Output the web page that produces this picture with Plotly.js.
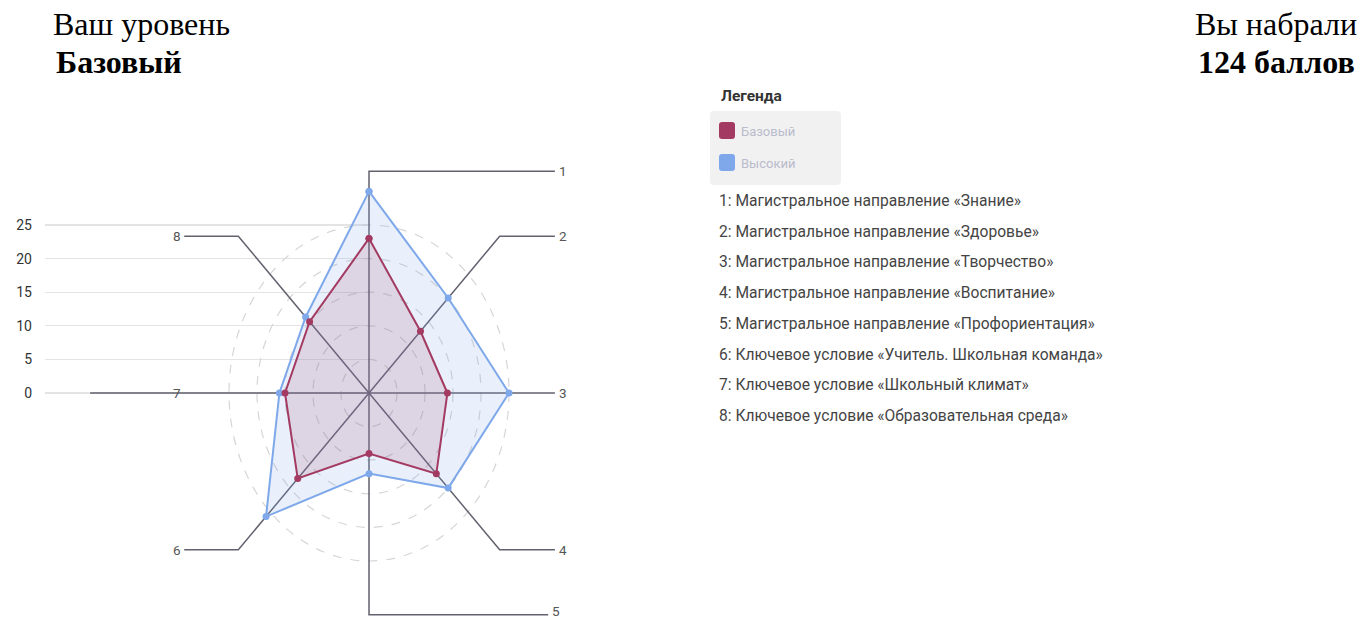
<!DOCTYPE html>
<html><head><meta charset="utf-8">
<script src="https://cdn.plot.ly/plotly-3.0.1.min.js"></script>
<style>html,body{margin:0;padding:0;background:#fff;overflow:hidden}#chart{width:1362px;height:620px}</style>
</head><body><div id="chart"></div>
<script>
// ---- data ----
const axisLabels = ['1','2','3','4','5','6','7','8'];
const axisNames = [
  'Магистральное направление «Знание»',
  'Магистральное направление «Здоровье»',
  'Магистральное направление «Творчество»',
  'Магистральное направление «Воспитание»',
  'Магистральное направление «Профориентация»',
  'Ключевое условие «Учитель. Школьная команда»',
  'Ключевое условие «Школьный климат»',
  'Ключевое условие «Образовательная среда»'
];
const seriesNames = ['Базовый', 'Высокий'];
const baseValues = [23, 13, 14, 17, 9, 18, 15, 15];
const highValues = [30, 20, 25, 20, 12, 26, 16, 16];
const gridLevels = [5, 10, 15, 20, 25];
const yTickValues = [0, 5, 10, 15, 20, 25];

// ---- geometry / style ----
const W = 1362, H = 620;
const CX = 369, CY = 393, PXX = 5.6, PXY = 6.72;
const xr = [-CX / PXX, (W - CX) / PXX];
const yr = [-(H - CY) / PXY, CY / PXY];
const px = v => v / W, py = v => 1 - v / H;
const baseColor = '#a33a62', highColor = '#7ea8ea';
const spokeColor = '#62626f';
const SPOKE = 33;
const angles = axisLabels.map((_, i) => (90 - 45 * i) * Math.PI / 180);

function polar(vals) {
  const x = vals.map((v, i) => v * Math.cos(angles[i]));
  const y = vals.map((v, i) => v * Math.sin(angles[i]));
  x.push(x[0]); y.push(y[0]);
  return {x, y};
}

// empty trace so the left value axis subplot is drawn
const traces = [{x: [], y: [], type: 'scatter', mode: 'lines', xaxis: 'x', yaxis: 'y', showlegend: false, hoverinfo: 'skip'}];
const annotations = [];

// spokes with leader legs
const legEnds = [33.2, 33.2, 33.2, 33.2, 32, -33, -49.8, -33];
axisLabels.forEach((lab, i) => {
  const ex = SPOKE * Math.cos(angles[i]), ey = SPOKE * Math.sin(angles[i]);
  const exr = Math.abs(ex) < 1e-9 ? 0 : ex, eyr = Math.abs(ey) < 1e-9 ? 0 : ey;
  traces.push({x: [0, exr, legEnds[i]], y: [0, eyr, eyr], xaxis: 'x2', yaxis: 'y2', mode: 'lines', type: 'scatter',
    line: {color: spokeColor, width: 1.5}, hoverinfo: 'skip', showlegend: false});
  const right = legEnds[i] > 0;
  const ly = eyr < -30 ? eyr + 0.5 : eyr;
  annotations.push({x: right ? legEnds[i] + 0.3 : -33.2, y: ly, xref: 'x2', yref: 'y2', text: lab, showarrow: false,
    xanchor: right ? 'left' : 'right', yanchor: 'middle',
    font: {family: 'Roboto', size: 13.5, color: '#555'}});
});

const hp = polar(highValues), bp = polar(baseValues);
traces.push({x: hp.x, y: hp.y, xaxis: 'x2', yaxis: 'y2', type: 'scatter', mode: 'lines+markers',
  name: seriesNames[1], fill: 'toself', fillcolor: 'rgba(126,167,232,0.17)',
  line: {color: highColor, width: 2}, marker: {color: highColor, size: 7}, showlegend: false});
traces.push({x: bp.x, y: bp.y, xaxis: 'x2', yaxis: 'y2', type: 'scatter', mode: 'lines+markers',
  name: seriesNames[0], fill: 'toself', fillcolor: 'rgba(162,58,98,0.15)',
  line: {color: baseColor, width: 2}, marker: {color: baseColor, size: 7}, showlegend: false});

// dashed grid circles
const shapes = gridLevels.map(r => ({type: 'circle', xref: 'x2', yref: 'y2',
  x0: -r, x1: r, y0: -r, y1: r, layer: 'below',
  line: {color: '#d6d6d6', width: 1.2, dash: 'dash'}}));

function rrect(x0, y0, x1, y1, r, color) {
  const X = px, Y = py;
  const p = `M ${X(x0 + r)} ${Y(y0)} L ${X(x1 - r)} ${Y(y0)} Q ${X(x1)} ${Y(y0)} ${X(x1)} ${Y(y0 + r)} ` +
    `L ${X(x1)} ${Y(y1 - r)} Q ${X(x1)} ${Y(y1)} ${X(x1 - r)} ${Y(y1)} L ${X(x0 + r)} ${Y(y1)} ` +
    `Q ${X(x0)} ${Y(y1)} ${X(x0)} ${Y(y1 - r)} L ${X(x0)} ${Y(y0 + r)} Q ${X(x0)} ${Y(y0)} ${X(x0 + r)} ${Y(y0)} Z`;
  return {type: 'path', xref: 'paper', yref: 'paper', path: p, fillcolor: color, line: {width: 0}, layer: 'above'};
}
shapes.push(rrect(710, 111, 841, 185, 4, '#f1f1f2'));
shapes.push(rrect(719, 122, 735, 139, 3, baseColor));
shapes.push(rrect(719, 154, 735, 171, 3, highColor));

// legend texts
annotations.push({x: px(719), y: py(96), xref: 'paper', yref: 'paper', text: '<b>Легенда</b>',
  showarrow: false, xanchor: 'left', yanchor: 'middle', font: {family: 'Roboto', size: 15.5, color: '#333'}});
[seriesNames[0], seriesNames[1]].forEach((n, i) => annotations.push({x: px(739), y: py(131 + 32 * i),
  xref: 'paper', yref: 'paper', text: n, showarrow: false, xanchor: 'left', yanchor: 'middle',
  font: {family: 'Roboto', size: 13, color: '#b9bccb'}}));
axisNames.forEach((n, i) => annotations.push({x: px(717), y: py(201 + 30.7 * i), xref: 'paper', yref: 'paper',
  text: axisLabels[i] + ': ' + n, showarrow: false, xanchor: 'left', yanchor: 'middle',
  font: {family: 'Roboto', size: 15.6, color: '#444'}}));

// header
const total = baseValues.reduce((a, b) => a + b, 0);
const serif = 'Liberation Serif';
annotations.push({x: px(51), y: py(24), xref: 'paper', yref: 'paper', text: 'Ваш уровень', showarrow: false,
  xanchor: 'left', yanchor: 'middle', font: {family: serif, size: 32, color: '#000'}});
annotations.push({x: px(54), y: py(62), xref: 'paper', yref: 'paper', text: '<b>' + seriesNames[0] + '</b>', showarrow: false,
  xanchor: 'left', yanchor: 'middle', font: {family: serif, size: 32, color: '#000'}});
annotations.push({x: px(1359), y: py(24), xref: 'paper', yref: 'paper', text: 'Вы набрали', showarrow: false,
  xanchor: 'right', yanchor: 'middle', font: {family: serif, size: 32, color: '#000'}});
annotations.push({x: px(1357), y: py(62), xref: 'paper', yref: 'paper', text: '<b>' + total + ' баллов</b>', showarrow: false,
  xanchor: 'right', yanchor: 'middle', font: {family: serif, size: 32, color: '#000'}});

const layout = {
  width: W, height: H, margin: {l: 0, r: 0, t: 0, b: 0},
  paper_bgcolor: '#fff', plot_bgcolor: 'rgba(0,0,0,0)', showlegend: false,
  xaxis: {domain: [px(45), px(369)], range: [0, 1], visible: false, anchor: 'y', fixedrange: true},
  yaxis: {domain: [0, 1], range: yr, anchor: 'x', tickvals: yTickValues, showgrid: true,
    gridcolor: '#e4e4e4', gridwidth: 1.2, zeroline: false, showline: false, ticks: '',
    ticklabelstandoff: 12, tickfont: {family: 'Roboto', size: 14, color: '#333'}, fixedrange: true},
  xaxis2: {domain: [0, 1], range: xr, visible: false, anchor: 'y2', fixedrange: true},
  yaxis2: {domain: [0, 1], range: yr, visible: false, anchor: 'x2', fixedrange: true},
  shapes, annotations
};
Plotly.newPlot('chart', traces, layout, {displayModeBar: false, staticPlot: true});
</script></body></html>
